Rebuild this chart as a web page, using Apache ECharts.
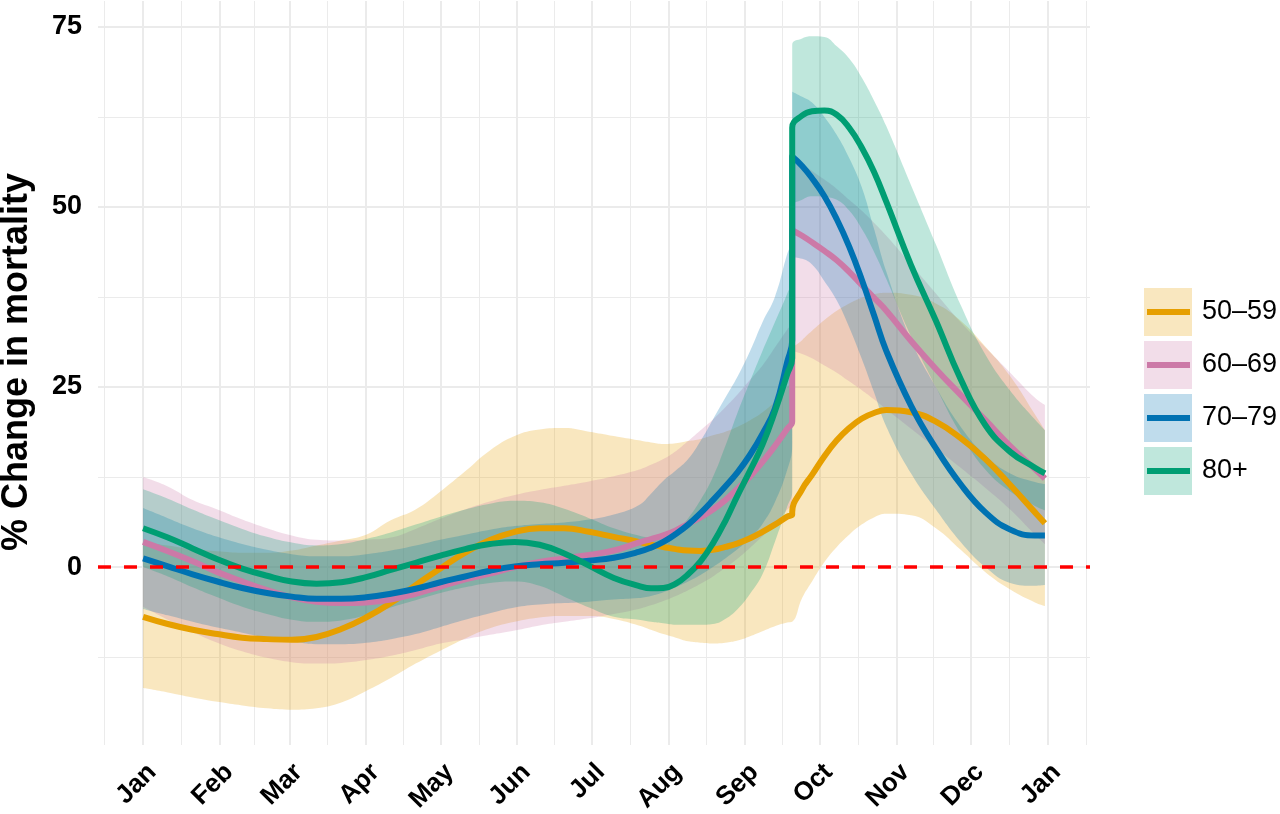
<!DOCTYPE html>
<html>
<head>
<meta charset="utf-8">
<script src="https://cdn.jsdelivr.net/npm/echarts@6/dist/echarts.min.js"></script>
<style>html,body{margin:0;padding:0;background:#fff;}#chart{width:1280px;height:814px;}</style>
</head>
<body>
<div id="chart"></div>
<script>
// ---- data (day of year, 0 = 1 Jan); 262 appears twice: value just before and just after the step ----
const days = [0,10,20,30,40,50,60,70,80,90,100,110,120,130,140,150,160,170,180,190,200,205,210,215,220,225,230,235,240,245,250,255,260,262,262,266,270,275,280,285,290,295,300,310,320,330,340,350,360,364];

const groups = ['50–59','60–69','70–79','80+'];
const colors = ['#E69F00','#CC79A7','#0072B2','#009E73'];

const est5059 = [-6.9,-7.9,-8.7,-9.3,-9.8,-10.0,-10.1,-9.7,-8.6,-7.0,-5.0,-2.5,-0.2,2.0,3.75,4.9,5.4,5.4,4.9,4.2,3.5, 3.1,2.8,2.5,2.3,2.25,2.4,2.8,3.3,4.0,4.9,5.9,7.0, 7.3,7.6, 10.8,12.8,15.4,17.6,19.3,20.6,21.4,21.8, 21.5,20.2,17.9,15.0,11.4,7.6, 6.1];
const hi5059  = [3.5,3.0,2.5,2.2,2.0,2.0,2.3,3.0,3.7,4.5,6.5,8.0,10.5,13.3,16.2,18.2,19.1,19.3,18.8,18.2,17.6, 17.3,17.1,17.2,17.5,17.8,18.3,18.8,19.5,20.4,21.5,23.0,25.0, 26.0,30.0, 31.5,32.8,34.3,35.6,36.6,37.4,37.9,38.1, 37.8,36.6,34.2,30.6,26.5,21.2, 19.0];
const lo5059  = [-16.8,-17.4,-18.1,-18.7,-19.2,-19.6,-19.8,-19.6,-18.8,-17.2,-15.4,-13.4,-11.6,-9.9,-8.5,-7.6,-7.0,-6.8,-6.8,-7.2,-8.1, -8.7,-9.3,-9.8,-10.3,-10.5,-10.6,-10.5,-10.2,-9.6,-8.9,-8.2,-7.7, -7.6,-7.6, -4.3,-2.0,0.7,2.8,4.5,5.9,6.9,7.4, 7.2,5.4,2.4,-0.7,-3.1,-4.9, -5.4];

const est6069 = [3.5,2.2,0.8,-0.7,-2.0,-3.2,-4.2,-4.8,-5.0,-4.9,-4.5,-3.7,-2.7,-1.7,-0.9,0.0,0.7,1.2,1.7,2.3,3.4, 3.9,4.4,5.1,6.0,6.9,8.0,9.3,10.9,12.6,14.6,16.8,19.2, 20.2,46.8, 46.0,45.1,43.9,42.6,41.0,39.2,37.4,35.6, 31.4,27.5,23.9,20.4,16.8,13.6, 12.3];
const hi6069  = [12.5,11.2,9.3,8.0,6.6,5.4,4.4,3.8,3.7,3.8,4.1,5.3,6.7,8.0,9.1,10.0,10.7,11.3,11.9,12.6,13.5, 14.2,15.0,16.1,17.5,19.0,20.5,22.2,24.0,26.0,28.0,30.5,33.0, 34.0,57.0, 56.0,55.0,53.8,52.5,51.0,49.5,47.8,46.0, 42.0,38.0,34.0,30.5,27.0,23.5, 22.5];
const lo6069  = [-5.5,-7.3,-9.0,-10.5,-11.7,-12.6,-13.2,-13.4,-13.3,-12.9,-12.3,-11.5,-10.6,-10.0,-9.4,-8.8,-8.1,-7.6,-7.1,-6.5,-5.8, -5.3,-4.7,-4.0,-3.2,-2.3,-1.3,-0.1,1.2,2.7,4.3,6.0,8.0, 8.8,30.0, 29.6,29.0,28.0,27.0,25.8,24.6,23.3,21.9, 19.2,16.5,13.8,11.0,8.0,4.5, 3.2];

const est7079 = [1.2,0.1,-1.0,-2.0,-2.9,-3.6,-4.1,-4.4,-4.4,-4.2,-3.7,-3.0,-2.1,-1.3,-0.5,0.1,0.4,0.6,0.9,1.3,2.1, 2.7,3.5,4.6,5.9,7.5,9.3,11.2,13.2,15.6,18.5,22.0,28.5, 31.5,57.0, 55.7,54.0,51.5,48.3,44.5,40.0,35.0,30.0, 22.4,16.5,11.5,7.6,5.2,4.4, 4.4];
const hi7079  = [8.2,6.8,5.4,4.2,3.2,2.4,1.8,1.5,1.5,1.8,2.3,3.0,3.8,4.5,5.2,5.7,6.0,6.2,6.6,7.3,8.6, 10.2,12.0,13.4,15.0,17.5,20.5,23.5,26.5,30.0,34.0,37.5,43.5, 45.5,66.0, 65.3,64.5,62.5,60.0,56.8,52.8,47.0,41.0, 31.5,25.0,19.5,15.5,13.0,11.8, 11.5];
const lo7079  = [-5.8,-6.7,-7.6,-8.4,-9.1,-9.8,-10.3,-10.7,-10.7,-10.5,-10.0,-9.3,-8.3,-7.3,-6.4,-5.6,-5.2,-5.0,-4.8,-4.5,-4.3, -4.0,-3.5,-2.8,-2.0,-1.1,0.0,1.2,2.5,4.0,6.0,9.0,13.5, 17.0,43.0, 42.8,42.0,39.7,37.0,33.3,29.0,24.3,19.5, 13.0,8.0,3.5,0.0,-2.2,-2.6, -2.5];

const est80p  = [5.4,4.1,2.6,1.1,-0.2,-1.2,-2.0,-2.3,-2.1,-1.4,-0.4,0.6,1.6,2.5,3.2,3.5,3.1,1.9,0.2,-1.5,-2.6, -2.95,-2.9,-2.3,-1.0,0.8,3.3,6.4,10.0,13.4,17.0,21.6,26.8, 29.0,61.0, 62.7,63.3,63.4,62.8,61.0,58.3,54.9,50.7, 41.9,34.2,26.1,19.7,16.0,13.8, 13.0];
const hi80p   = [10.8,9.5,8.0,6.6,5.3,4.2,3.4,3.0,3.2,3.9,4.8,5.9,7.0,8.0,8.8,9.2,9.0,8.1,6.8,5.4,4.4, 4.1,4.2,5.0,6.8,9.3,12.5,16.8,21.5,25.8,30.0,34.0,38.0, 40.0,72.5, 73.4,73.7,73.6,72.3,70.6,68.0,64.8,61.2, 53.0,44.8,36.4,29.5,24.5,20.5, 19.0];
const lo80p   = [0.0,-1.3,-2.8,-4.2,-5.5,-6.5,-7.3,-7.6,-7.4,-6.7,-5.6,-4.6,-3.6,-2.8,-2.2,-2.0,-2.6,-4.1,-5.6,-6.9,-7.3, -7.6,-7.8,-8.0,-8.0,-8.0,-7.9,-7.2,-5.8,-3.7,-1.0,3.5,8.4, 10.5,50.0, 51.0,51.5,51.4,51.0,49.5,47.0,43.8,40.0, 32.0,25.0,18.5,13.5,10.5,8.5, 7.9];

// axis ticks
const monthLabels = ['Jan','Feb','Mar','Apr','May','Jun','Jul','Aug','Sep','Oct','Nov','Dec','Jan'];
const monthStartDays = [0,31,59,90,120,151,181,212,243,273,304,334,365];
const midMonthDays = [-15.5,15.5,45,74.5,105,135.5,166,196.5,227.5,258,288.5,319,349.5,380.5];
const yMajor = [0,25,50,75];
const yMinor = [-12.5,12.5,37.5,62.5];

// ---- build ----
const estAll = [est5059, est6069, est7079, est80p];
const hiAll = [hi5059, hi6069, hi7079, hi80p];
const loAll = [lo5059, lo6069, lo7079, lo80p];
const FONT = 'Liberation Sans, Arial, Helvetica, sans-serif';
const SMOOTH = 0.45;

function hexA(hex, a) {
  const n = parseInt(hex.slice(1), 16);
  return 'rgba(' + ((n >> 16) & 255) + ',' + ((n >> 8) & 255) + ',' + (n & 255) + ',' + a + ')';
}

const series = [];
// grid lines
const gridLineData = []
  .concat(yMajor.map(v => ({ yAxis: v, lineStyle: { width: 2 } })))
  .concat(yMinor.map(v => ({ yAxis: v, lineStyle: { width: 1 } })))
  .concat(monthStartDays.map(v => ({ xAxis: v, lineStyle: { width: 2 } })))
  .concat(midMonthDays.map(v => ({ xAxis: v, lineStyle: { width: 1 } })));
series.push({
  type: 'line', name: 'grid', data: [], silent: true,
  markLine: { silent: true, symbol: 'none', z: 0, label: { show: false },
    lineStyle: { color: '#EBEBEB', type: 'solid' }, data: gridLineData }
});
// ribbons: lower bound, then band width stacked on it.
// value listed first so the stack runs along the y dimension.
groups.forEach((g, i) => {
  series.push({
    type: 'line', name: g + ' lo', stack: 'band' + i, stackStrategy: 'all',
    dimensions: ['v', 'day'], encode: { x: 'day', y: 'v' },
    data: days.map((d, j) => [loAll[i][j], d]),
    symbol: 'none', smooth: SMOOTH, silent: true, z: 2,
    lineStyle: { opacity: 0, width: 0 }
  });
  series.push({
    type: 'line', name: g + ' CI', stack: 'band' + i, stackStrategy: 'all',
    dimensions: ['v', 'day'], encode: { x: 'day', y: 'v' },
    data: days.map((d, j) => [hiAll[i][j] - loAll[i][j], d]),
    symbol: 'none', smooth: SMOOTH, silent: true, z: 2,
    itemStyle: { color: hexA(colors[i], 0.25) },
    lineStyle: { opacity: 0, width: 0 },
    areaStyle: { color: hexA(colors[i], 0.25), opacity: 1 }
  });
});
// estimate lines
groups.forEach((g, i) => {
  series.push({
    type: 'line', name: g,
    data: days.map((d, j) => [d, estAll[i][j]]),
    symbol: 'none', smooth: SMOOTH, z: 4,
    itemStyle: { color: colors[i] },
    lineStyle: { color: colors[i], width: 6, cap: 'butt', join: 'round' }
  });
});
// reference line at zero
series.push({
  type: 'line', name: 'zero', data: [], silent: true,
  markLine: { silent: true, symbol: 'none', z: 10, label: { show: false },
    lineStyle: { color: '#FF0000', width: 3.5, type: [13, 13] },
    data: [{ yAxis: 0 }] }
});

const option = {
  animation: false,
  backgroundColor: '#ffffff',
  textStyle: { fontFamily: FONT },
  grid: { left: 98, right: 190, top: 1, bottom: 69, containLabel: false, outerBoundsMode: 'none' },
  xAxis: {
    type: 'value', min: -18.2, max: 382.2,
    axisLine: { show: false }, axisTick: { show: false }, splitLine: { show: false },
    axisLabel: {
      customValues: monthStartDays,
      formatter: v => { const k = monthStartDays.indexOf(v); return k >= 0 ? monthLabels[k] : ''; },
      rotate: 45, align: 'right', verticalAlign: 'top', margin: 14,
      fontSize: 26, fontWeight: 'bold', color: '#000', fontFamily: FONT
    }
  },
  yAxis: {
    type: 'value', min: -24.7, max: 78.6,
    name: '% Change in mortality', nameLocation: 'middle', nameGap: 63,
    nameTextStyle: { fontSize: 36, fontWeight: 'bold', color: '#000', fontFamily: FONT, padding: [0, 0, 0, 22] },
    axisLine: { show: false }, axisTick: { show: false }, splitLine: { show: false },
    axisLabel: {
      customValues: yMajor, margin: 16,
      fontSize: 27, fontWeight: 'bold', color: '#000', fontFamily: FONT
    }
  },
  legend: [
    {
      data: groups.map((g, i) => ({ name: g + ' CI', itemStyle: { color: hexA(colors[i], 0.25) } })),
      orient: 'vertical', left: 1144, top: 288, padding: 0,
      itemWidth: 48, itemHeight: 48, itemGap: 5, icon: 'rect',
      formatter: () => '', selectedMode: false,
      textStyle: { fontSize: 10 }
    },
    {
      data: groups.map((g, i) => ({ name: g, itemStyle: { color: colors[i] } })),
      orient: 'vertical', left: 1147, top: 288, padding: 0, z: 10,
      itemWidth: 43, itemHeight: 6, itemGap: 5, icon: 'rect', selectedMode: false,
      textStyle: { fontSize: 27, lineHeight: 48, color: '#000', fontFamily: FONT, padding: [0, 0, 0, 7] }
    }
  ],
  series: series
};

const chart = echarts.init(document.getElementById('chart'), null, { renderer: 'canvas' });
chart.setOption(option);
</script>
</body>
</html>
